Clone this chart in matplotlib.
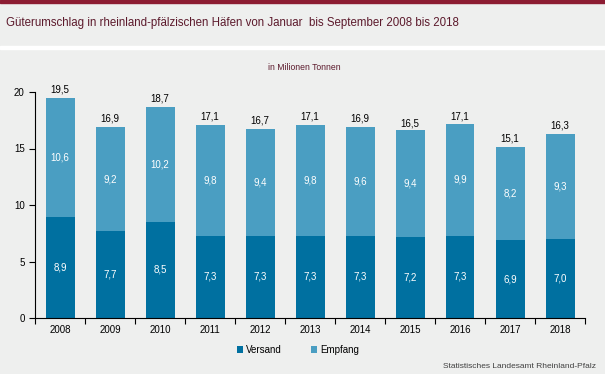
import matplotlib.pyplot as plt
import numpy as np
from matplotlib.patches import Rectangle

plt.rcParams['font.family'] = ['Liberation Sans', 'DejaVu Sans']

#Data
years = ['2008', '2009', '2010', '2011', '2012', '2013', '2014', '2015', '2016', '2017', '2018']
versand = [8.9, 7.7, 8.5, 7.3, 7.3, 7.3, 7.3, 7.2, 7.3, 6.9, 7.0]
empfang = [10.6, 9.2, 10.2, 9.8, 9.4, 9.8, 9.6, 9.4, 9.9, 8.2, 9.3]
totals = [19.5, 16.9, 18.7, 17.1, 16.7, 17.1, 16.9, 16.5, 17.1, 15.1, 16.3]

bg = '#eeefee'
c_versand = '#0070a0'
c_empfang = '#4a9ec2'
maroon = '#5c1a2c'

W, H = 605, 374
fig = plt.figure(figsize=(W / 100, H / 100), dpi=100, facecolor=bg)

#Top dark red strip and white separator
fig.patches.append(Rectangle((0, 1 - 3 / H), 1, 3 / H, transform=fig.transFigure, color='#8c1c32', zorder=0))
fig.patches.append(Rectangle((0, 1 - 49 / H), 1, 3 / H, transform=fig.transFigure, color='white', zorder=0))

fig.text(6 / W, 1 - 23 / H, 'Güterumschlag in rheinland-pfälzischen Häfen von Januar  bis September 2008 bis 2018',
         fontsize=8.3, color=maroon, va='center', ha='left')
fig.text(304 / W, 1 - 68 / H, 'in Milionen Tonnen', fontsize=6.2, color=maroon, va='center', ha='center')

ax = fig.add_axes([35 / W, 1 - 318 / H, 550 / W, 226 / H])
ax.set_facecolor(bg)

x = np.arange(len(years))
w = 0.58
ax.bar(x, versand, width=w, color=c_versand, label='Versand', zorder=2)
ax.bar(x, empfang, width=w, bottom=versand, color=c_empfang, label='Empfang', zorder=2)

for i in range(len(years)):
    ax.text(x[i], versand[i] / 2, f'{versand[i]:.1f}'.replace('.', ','), ha='center', va='center',
            color='white', fontsize=7)
    ax.text(x[i], versand[i] + empfang[i] / 2, f'{empfang[i]:.1f}'.replace('.', ','), ha='center', va='center',
            color='white', fontsize=7)
    ax.text(x[i], totals[i] + 0.3, f'{totals[i]:.1f}'.replace('.', ','), ha='center', va='bottom',
            color='black', fontsize=7)

ax.set_xlim(-0.5, len(years) - 0.5)
ax.set_ylim(0, 20)
ax.set_yticks([0, 5, 10, 15, 20])
ax.set_xticks(x)
ax.set_xticklabels(years, fontsize=7)
ax.set_xticks(np.arange(-0.5, len(years), 1), minor=True)
ax.tick_params(axis='x', which='major', length=0, pad=5)
ax.tick_params(axis='x', which='minor', length=4, direction='out', width=0.8)
ax.tick_params(axis='y', labelsize=7, length=4, width=0.8)
for s in ['top', 'right']:
    ax.spines[s].set_visible(False)
ax.spines['left'].set_linewidth(0.8)
ax.spines['bottom'].set_linewidth(0.8)
ax.spines['left'].set_bounds(0, 20)

fig.legend(loc='center', bbox_to_anchor=(298 / W, 1 - 350 / H), ncol=2, frameon=False, fontsize=7,
           handlelength=0.6, handleheight=0.6, handletextpad=0.3, columnspacing=3.0)

fig.text(596 / W, 1 - 367 / H, 'Statistisches Landesamt Rheinland-Pfalz', fontsize=6, color='#404040',
         ha='right', va='center')

fig.savefig('out.png', dpi=100, facecolor=bg)
